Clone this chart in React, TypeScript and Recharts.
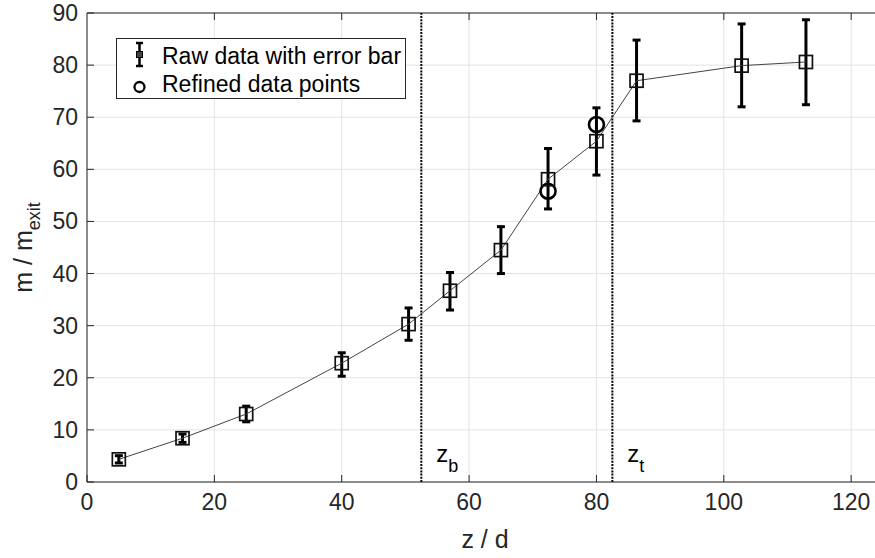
import React from "react";
import { ComposedChart, Line, Scatter, XAxis, YAxis, CartesianGrid, ReferenceLine, ErrorBar, Legend } from "recharts";

// raw measurements (z/d, m/m_exit) with lower/upper error
const zRaw = [5, 15, 25, 40, 50.5, 57, 65, 72.4, 80, 86.3, 102.8, 112.9];
const mRaw = [4.35, 8.4, 13.05, 22.8, 30.3, 36.7, 44.5, 58.1, 65.4, 77.0, 79.9, 80.6];
const errLow = [0.7, 0.8, 1.5, 2.5, 3.1, 3.7, 4.5, 5.7, 6.5, 7.7, 7.9, 8.2];
const errHigh = [0.7, 0.8, 1.5, 2.0, 3.1, 3.5, 4.5, 5.9, 6.4, 7.8, 8.0, 8.1];

// refined points
const zRefined = [72.4, 80];
const mRefined = [55.8, 68.6];

const xTicks = [0, 20, 40, 60, 80, 100, 120];
const yTicks = [0, 10, 20, 30, 40, 50, 60, 70, 80, 90];
const markers = [
  { z: 52.5, sub: "b" },
  { z: 82.5, sub: "t" },
];

const FONT = '"Liberation Sans", Arial, sans-serif';
const AXIS = "#262626";

const rawData = zRaw.map((z, i) => ({ z, m: mRaw[i], err: [errLow[i], errHigh[i]] }));
const refinedData = zRefined.map((z, i) => ({ z, m: mRefined[i] }));

const XTick = (props: any) => {
  const { x, y, payload } = props;
  return (
    <g>
      <line x1={x} x2={x} y1={y} y2={y - 7} stroke={AXIS} strokeWidth={1} />
      <text x={x} y={y + 28} textAnchor="middle" fontSize={23} fontFamily={FONT} fill={AXIS}>{payload.value}</text>
    </g>
  );
};

const YTick = (props: any) => {
  const { x, y, payload } = props;
  return (
    <g>
      <line x1={x} x2={x + 7} y1={y} y2={y} stroke={AXIS} strokeWidth={1} />
      <text x={x - 9} y={y + 8} textAnchor="end" fontSize={23} fontFamily={FONT} fill={AXIS}>{payload.value}</text>
    </g>
  );
};

const SquareDot = (props: any) => {
  const { cx, cy, index } = props;
  if (cx == null || cy == null) return <g key={index} />;
  return <rect key={index} x={cx - 6.5} y={cy - 6.5} width={13} height={13} fill="none" stroke="#111" strokeWidth={1.7} />;
};

const CircleDot = (props: any) => {
  const { cx, cy } = props;
  return <circle cx={cx} cy={cy} r={7.5} fill="none" stroke="#000" strokeWidth={2.6} />;
};

const LegendBox = () => (
  <svg width={291} height={62} style={{ display: "block" }}>
    <rect x={0.5} y={0.5} width={289} height={60} fill="#fff" stroke={AXIS} strokeWidth={1} />
    <g stroke="#000" strokeWidth={2.5}>
      <line x1={23.5} x2={23.5} y1={5} y2={28} />
      <line x1={20} x2={27} y1={5} y2={5} />
      <line x1={20} x2={27} y1={28} y2={28} />
    </g>
    <rect x={20.5} y={13.5} width={6} height={6} fill="#444" stroke="#000" strokeWidth={1} />
    <text x={46} y={25.5} fontSize={23} fontFamily={FONT} fill="#000">Raw data with error bar</text>
    <circle cx={23.5} cy={49} r={5} fill="none" stroke="#000" strokeWidth={2.3} />
    <text x={46} y={53.5} fontSize={23} fontFamily={FONT} fill="#000">Refined data points</text>
  </svg>
);

export default function App() {
  return (
    <div style={{ position: "fixed", left: 0, top: 0, width: 875, height: 558, overflow: "hidden", background: "#fff" }}>
      <ComposedChart width={883} height={558} margin={{ top: 13, right: 0, left: 0, bottom: 0 }}>
        <CartesianGrid stroke="#e3e3e3" strokeWidth={1} />
        <XAxis
          type="number"
          dataKey="z"
          domain={[0, 125]}
          ticks={xTicks}
          height={76}
          tickSize={0}
          tickMargin={0}
          tickLine={false}
          axisLine={{ stroke: AXIS, strokeWidth: 1 }}
          tick={<XTick />}
          label={{
            content: (p: any) => {
              const vb = p.viewBox;
              return (
                <text x={vb.x + vb.width / 2} y={vb.y + 66} textAnchor="middle" fontSize={25} fontFamily={FONT} fill={AXIS}>
                  z / d
                </text>
              );
            },
          }}
        />
        <YAxis
          type="number"
          domain={[0, 90]}
          ticks={yTicks}
          width={87}
          tickSize={0}
          tickMargin={0}
          tickLine={false}
          axisLine={{ stroke: AXIS, strokeWidth: 1 }}
          tick={<YTick />}
          label={{
            content: (p: any) => {
              const vb = p.viewBox;
              const cx = 32;
              const cy = vb.y + vb.height / 2;
              return (
                <text x={cx} y={cy} transform={`rotate(-90, ${cx}, ${cy})`} textAnchor="middle" fontSize={25} fontFamily={FONT} fill={AXIS}>
                  m / m<tspan fontSize={18} dy={8}>exit</tspan>
                </text>
              );
            },
          }}
        />
        <ReferenceLine y={90} stroke={AXIS} strokeWidth={1} />
        {xTicks.slice(1).map((t) => (
          <ReferenceLine key={"tt" + t} segment={[{ x: t, y: 90 }, { x: t, y: 88.65 }]} stroke={AXIS} strokeWidth={1} />
        ))}
        {markers.map((mk) => (
          <ReferenceLine
            key={mk.sub}
            x={mk.z}
            stroke="#000"
            strokeWidth={2}
            strokeDasharray="2 1.2"
            label={{
              content: (p: any) => {
                const vb = p.viewBox;
                return (
                  <text x={vb.x + 15} y={vb.y + vb.height - 20} fontSize={24} fontFamily={FONT} fill="#000">
                    z<tspan fontSize={18} dy={10}>{mk.sub}</tspan>
                  </text>
                );
              },
            }}
          />
        ))}
        <Line
          data={rawData}
          dataKey="m"
          type="linear"
          stroke="#444"
          strokeWidth={1}
          dot={<SquareDot />}
          activeDot={false}
          isAnimationActive={false}
        >
          <ErrorBar dataKey="err" direction="y" width={4} stroke="#000" strokeWidth={3} />
        </Line>
        <Scatter data={refinedData} dataKey="m" shape={<CircleDot />} isAnimationActive={false} />
        <Legend
          layout="horizontal"
          verticalAlign="middle"
          align="center"
          wrapperStyle={{ position: "absolute", left: 116, top: 38, width: 291, height: 62 }}
          content={() => <LegendBox />}
        />
      </ComposedChart>
    </div>
  );
}
